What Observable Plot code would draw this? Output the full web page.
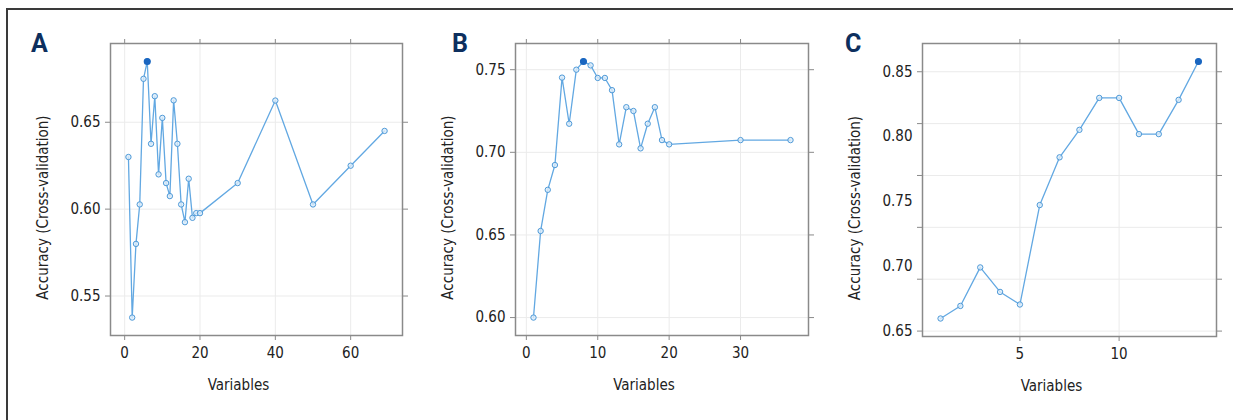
<!DOCTYPE html>
<html><head><meta charset="utf-8">
<script src="https://cdn.jsdelivr.net/npm/d3@7"></script>
<script src="https://cdn.jsdelivr.net/npm/@observablehq/plot@0.6"></script>
<style>
body{margin:0;background:#fff;}
#wrap{position:relative;width:1233px;height:420px;overflow:hidden;background:#fff;}
#border{position:absolute;left:6px;top:8px;width:1300px;height:500px;border-top:2px solid #3a3a3a;border-left:2px solid #3a3a3a;}
.letter{position:absolute;font-family:Roboto,'Liberation Sans',sans-serif;font-weight:700;font-size:25px;color:#0d2f5e;line-height:1;}
svg{position:absolute;top:0;}
</style></head>
<body><div id="wrap"><div id="border"></div></div>
<script>
// Panel A
const aVars = [1,2,3,4,5,6,7,8,9,10,11,12,13,14,15,16,17,18,19,20,30,40,50,60,69];
const aAcc  = [0.630,0.5376,0.580,0.6027,0.675,0.685,0.6376,0.665,0.620,0.6525,0.615,0.6075,0.6626,0.6376,0.6027,0.5925,0.6175,0.595,0.5977,0.5977,0.615,0.6625,0.6027,0.625,0.645];
const aXTicks = [0,20,40,60];
const aYTicks = [0.55,0.60,0.65];
// Panel B
const bVars = [1,2,3,4,5,6,7,8,9,10,11,12,13,14,15,16,17,18,19,20,30,37];
const bAcc  = [0.600,0.6524,0.6773,0.6923,0.7452,0.7173,0.750,0.755,0.7526,0.745,0.745,0.7376,0.7048,0.7273,0.725,0.7024,0.7173,0.7273,0.7074,0.7048,0.7074,0.7074];
const bXTicks = [0,10,20,30];
const bYTicks = [0.60,0.65,0.70,0.75];
// Panel C
const cVars = [1,2,3,4,5,6,7,8,9,10,11,12,13,14];
const cAcc  = [0.6597,0.6694,0.6991,0.6802,0.6705,0.7472,0.784,0.8052,0.8298,0.8298,0.8019,0.8019,0.8283,0.8579];
const cXTicks = [5,10];
const cYTicks = [0.65,0.70,0.75,0.80,0.85];
const cYGrid  = [0.65,0.69,0.73,0.77,0.81,0.85];

const letters = ["A","B","C"];
const xTitle = "Variables";
const yTitle = "Accuracy (Cross-validation)";

const FONT = "'Liberation Sans Narrow','DejaVu Sans Condensed','Arial Narrow',sans-serif";
const FS = 15;
const LINE = "#62a8e2";
const DOT = "#4f9ad8";
const BEST = "#1a66c0";
const GRID = "#ebebeb";
const AX = "#8a8a8a";

function ext(v){const [lo,hi]=d3.extent(v);const p=(hi-lo)*0.07;return [lo-p,hi+p];}

function panel(cfg){
  const data = cfg.vars.map((v,i)=>({v, acc: cfg.acc[i]}));
  const best = d3.maxIndex(cfg.acc);
  const blank = () => "";
  const yGrid = cfg.yGrid || cfg.yTicks;
  const svg = Plot.plot({
    width: cfg.width, height: 420,
    marginLeft: cfg.ml, marginRight: cfg.mr, marginTop: 43, marginBottom: cfg.mb,
    x: {domain: ext(cfg.vars)},
    y: {domain: ext(cfg.acc)},
    style: {background:"none", fontFamily: FONT, fontSize: FS + "px", color:"#222", overflow:"visible"},
    marks: [
      Plot.gridX(cfg.xTicks, {stroke:GRID, strokeOpacity:1}),
      Plot.gridY(yGrid, {stroke:GRID, strokeOpacity:1}),
      Plot.line(data, {x:"v", y:"acc", stroke:LINE, strokeWidth:1.3}),
      Plot.dot(data, {x:"v", y:"acc", r:2.7, stroke:DOT, fill:"#dcecfa", fillOpacity:0.8, strokeWidth:1}),
      Plot.dot([data[best]], {x:"v", y:"acc", r:2.8, fill:BEST, stroke:BEST}),
      Plot.frame({stroke:AX, strokeWidth:1.5}),
      Plot.axisX(cfg.xTicks, {anchor:"bottom", tickSize:5, tickPadding:7, stroke:AX, fill:"#222", fontSize:FS, label:null}),
      Plot.axisX(cfg.xTicks, {anchor:"top", tickSize:5, stroke:AX, tickFormat:blank, label:null}),
      Plot.axisY(cfg.yTicks, {anchor:"left", tickSize:cfg.yGrid ? 0 : 5, tickPadding:cfg.yGrid ? 10 : 5, stroke:AX, fill:"#222", fontSize:FS, tickFormat:d3.format(".2f"), label:null}),
      ...(cfg.yGrid ? [Plot.axisY(yGrid, {anchor:"left", tickSize:5, stroke:AX, tickFormat:blank, label:null})] : []),
      Plot.axisY(yGrid, {anchor:"right", tickSize:5, stroke:AX, tickFormat:blank, label:null}),
      Plot.text([yTitle], {text:d=>d, frameAnchor:"left", dx:-67, dy:18, rotate:-90, fontSize:FS, fill:"#222", textAnchor:"middle", lineAnchor:"middle"}),
      Plot.text([xTitle], {text:d=>d, frameAnchor:"bottom", dx:-18, dy:50, fontSize:FS, fill:"#222", textAnchor:"middle", lineAnchor:"middle"})
    ]
  });
  svg.style.left = cfg.left + "px";
  document.getElementById("wrap").appendChild(svg);
  const lt = document.createElement("div");
  lt.className = "letter";
  lt.textContent = cfg.letter;
  lt.style.left = cfg.lx + "px";
  lt.style.top = "31px";
  document.getElementById("wrap").appendChild(lt);
}

panel({vars:aVars, acc:aAcc, xTicks:aXTicks, yTicks:aYTicks, left:0, width:410, ml:110, mr:8, mb:85, letter:letters[0], lx:31});
panel({vars:bVars, acc:bAcc, xTicks:bXTicks, yTicks:bYTicks, left:410, width:410, ml:105, mr:12, mb:85, letter:letters[1], lx:452});
panel({vars:cVars, acc:cAcc, xTicks:cXTicks, yTicks:cYTicks, yGrid:cYGrid, left:820, width:413, ml:102, mr:17, mb:84, letter:letters[2], lx:845});
</script>
</body></html>
